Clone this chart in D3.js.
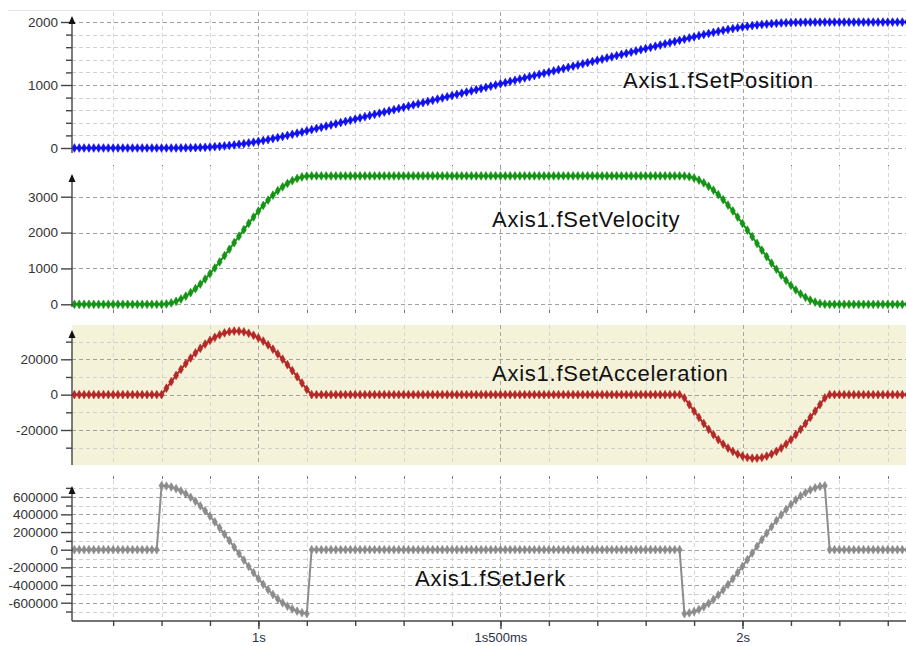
<!DOCTYPE html>
<html><head><meta charset="utf-8">
<script src="https://cdn.jsdelivr.net/npm/d3@7/dist/d3.min.js"></script>
<style>
body{margin:0;background:#fff;}
svg{display:block;font-family:Arial,"Liberation Sans",sans-serif;}
</style></head><body><svg id="chart" width="906" height="646"></svg>
<script>
// sample times: sampleStart + i*sampleStep (seconds as labelled on the axis)
const sampleStart = 0.62, sampleStep = 0.01;

const position = [
 0,0,0,0,0,0,0,0,0,0, 0,0,0,0,0,0,0,0,
 0,0,0.1,0.4,1.0,2.0,3.4,5.4,8.0,11.3, 15.4,20.2,25.9,32.6,40.1,48.5,58.0,68.3,79.7,91.9,
 105.0,118.9,133.7,149.2,165.4,182.2,199.5,217.3,235.4,253.8, 272.4,
 291.0,309.7,328.4,347.0,365.7,384.4,403.0,421.7,440.3,459.0,
 477.6,496.3,515.0,533.6,552.3,570.9,589.6,608.2,626.9,645.5,
 664.2,682.9,701.5,720.2,738.8,757.5,776.1,794.8,813.4,832.1,
 850.8,869.4,888.1,906.7,925.4,944.0,962.7,981.3,1000.0,1018.7,
 1037.3,1056.0,1074.6,1093.3,1111.9,1130.6,1149.2,1167.9,1186.5,1205.2,
 1223.9,1242.5,1261.2,1279.8,1298.5,1317.1,1335.8,1354.4,1373.1,1391.8,
 1410.4,1429.1,1447.7,1466.4,1485.0,1503.7,1522.3,
 1541.0,1559.7,1578.3,1597.0,1615.6,1634.3,1652.9,1671.6,1690.2,1708.9,
 1727.6,1746.2,1764.7,1782.9,1800.7,1818.1,1835.0,1851.3,1866.8,1881.6,
 1895.6,1908.7,1921.0,1932.2,1942.5,1951.9,1960.2,1967.6,1974.0,1979.6,
 1984.3,1988.1,1991.2,1993.6,1995.4,1996.6,1997.4,1997.9,1998.1,1998.2,
 1998.2,1998.2,1998.2,1998.2,1998.2,1998.2,1998.2,1998.2,1998.2,1998.2,
 1998.2,1998.2,1998.2,1998.2,1998.2,1998.2,1998.2
];

const velocity = [
 0,0,0,0,0,0,0,0,0,0, 0,0,0,0,0,0,0,0,
 0,9,37,83,147,228,325,437,564,703, 853,1013,1182,1356,1535,1717,1900,2081,2259,2433,
 2599,2756,2906,3043,3167,3276,3370,3447,3508,3550, 3574,
 3580,3580,3580,3580,3580,3580,3580,3580,3580,3580,
 3580,3580,3580,3580,3580,3580,3580,3580,3580,3580,
 3580,3580,3580,3580,3580,3580,3580,3580,3580,3580,
 3580,3580,3580,3580,3580,3580,3580,3580,3580,3580,
 3580,3580,3580,3580,3580,3580,3580,3580,3580,3580,
 3580,3580,3580,3580,3580,3580,3580,3580,3580,3580,
 3580,3580,3580,3580,3580,3580,3580,
 3580,3580,3580,3580,3580,3580,3580,3580,3580,3580,
 3577,3558,3519,3461,3385,3291,3181,3056,2916,2765,
 2603,2432,2253,2070,1884,1696,1510,1327,1148,977,
 815,664,524,399,289,195,119,61,22,3,
 0,0,0,0,0,0,0,0,0,0, 0,0,0,0,0,0,0
];

const acceleration = [
 0,0,0,0,0,0,0,0,0,0, 0,0,0,0,0,0,0,0,
 0,3665,7294,10843,14285,17575,20682,23580,26226,28606,
 30676,32436,33858,34920,35629,35971,35932,35521,34740,33599,
 32116,30300,28145,25715,23008,20074,16931,13608,10141,6574, 2934,
 0,0,0,0,0,0,0,0,0,0, 0,0,0,0,0,0,0,0,0,0,
 0,0,0,0,0,0,0,0,0,0, 0,0,0,0,0,0,0,0,0,0,
 0,0,0,0,0,0,0,0,0,0, 0,0,0,0,0,0,0,0,0,0,
 0,0,0,0,0,0,0,
 0,0,0,0,0,0,0,0,0,0,
 -1883,-5630,-9317,-12902,-16344,-19606,-22655,-25456,-27976,-30193,
 -32076,-33610,-34772,-35557,-35950,-35950,-35557,-34772,-33610,-32076,
 -30193,-27976,-25456,-22655,-19606,-16344,-12902,-9317,-5630,-1883,
 0,0,0,0,0,0,0,0,0,0, 0,0,0,0,0,0,0
];

const jerk = [
 0,0,0,0,0,0,0,0,0,0, 0,0,0,0,0,0,0,0,
 725000,721200,710000,691400,665500,632700,593400,547900,496700,440200,
 379500,314600,246400,175800,103400,29600,-44400,-117800,-190100,-260400,
 -327600,-391400,-452000,-507400,-557600,-601800,-639800,-671200,-695600,-712800, -722600,
 0,0,0,0,0,0,0,0,0,0, 0,0,0,0,0,0,0,0,0,0,
 0,0,0,0,0,0,0,0,0,0, 0,0,0,0,0,0,0,0,0,0,
 0,0,0,0,0,0,0,0,0,0, 0,0,0,0,0,0,0,0,0,0,
 0,0,0,0,0,0,0,
 0,0,0,0,0,0,0,0,0,0,
 -724000,-716100,-700300,-676900,-646000,-608100,-563400,-512600,-456200,-394800,
 -329200,-259800,-187600,-113400,-37900,37900,113400,187600,259800,329200,
 394800,456200,512600,563400,608100,646000,676900,700300,716100,724000,
 0,0,0,0,0,0,0,0,0,0, 0,0,0,0,0,0,0
];

const seriesNames = ["Axis1.fSetPosition","Axis1.fSetVelocity","Axis1.fSetAcceleration","Axis1.fSetJerk"];

const posMajor = [0,1000,2000], posMinor = [200,400,600,800,1200,1400,1600,1800];
const velMajor = [0,1000,2000,3000], velMinor = [];
const accMajor = [-20000,0,20000], accMinor = [-30000,-10000,10000,30000];
const jerkMajor = [-600000,-400000,-200000,0,200000,400000,600000];
const jerkMinor = [-700000,-500000,-300000,-100000,100000,300000,500000,700000];

const xMinorTicks = [0.7,0.8,0.9,1.0,1.1,1.2,1.3,1.4,1.5,1.6,1.7,1.8,1.9,2.0,2.1,2.2,2.3];
const xLabelTicks = [1, 1.5, 2];
const xTickLabels = ["1s","1s500ms","2s"];

const svg = d3.select("#chart");
const W = 906, L = 72, R = 906;
const x = d3.scaleLinear().domain([0.615, 2.3377]).range([L, R]);
const tOf = i => sampleStart + i * sampleStep;

const panels = [
 {values: position, color:"#1010f0", dom:[0,2000], rng:[148,22], top:12, bottom:160, axTop:16, axBot:153,
  major: posMajor, minor: posMinor, fmt: d=>String(d), lx:623, ly:88, bg:null, tickY:165},
 {values: velocity, color:"#149414", dom:[0,3000], rng:[304.3,196.7], top:166, bottom:310, axTop:174, axBot:307,
  major: velMajor, minor: velMinor, fmt: d=>String(d), lx:492, ly:227, bg:null, tickY:310},
 {values: acceleration, color:"#b42828", dom:[-20000,20000], rng:[430,359.3], top:325, bottom:465, axTop:330, axBot:465,
  major: accMajor, minor: accMinor, fmt: d=>String(d), lx:492, ly:381, bg:"#f5f2da", tickY:476},
 {values: jerk, color:"#8c8c8c", dom:[-600000,600000], rng:[602.7,496.7], top:480, bottom:621, axTop:486, axBot:621,
  major: jerkMajor, minor: jerkMinor, fmt: d=>String(d), lx:415, ly:586, bg:null, tickY:null}
];

// faint top border
svg.append("line").attr("x1",8).attr("x2",W).attr("y1",10.5).attr("y2",10.5)
  .attr("stroke","#e6e6e6").attr("stroke-width",1);

const defs = svg.append("defs");

panels.forEach((p, k) => {
  const y = d3.scaleLinear().domain(p.dom).range(p.rng);
  const g = svg.append("g");
  if (p.bg) g.append("rect").attr("x",L).attr("y",p.top).attr("width",R-L).attr("height",p.bottom-p.top).attr("fill",p.bg);

  // vertical grid
  g.selectAll(".vg").data(xMinorTicks).join("line")
    .attr("x1",d=>Math.round(x(d))+0.5).attr("x2",d=>Math.round(x(d))+0.5)
    .attr("y1",p.top).attr("y2",p.bottom)
    .attr("stroke",d=> xLabelTicks.some(v=>Math.abs(v-d)<1e-6) ? "#a6a6a6" : "#d6d6d6")
    .attr("stroke-dasharray","4,3").attr("stroke-width",1);
  // horizontal grid
  g.selectAll(".hgm").data(p.minor).join("line")
    .attr("x1",L).attr("x2",R).attr("y1",d=>Math.round(y(d))+0.5).attr("y2",d=>Math.round(y(d))+0.5)
    .attr("stroke","#d0d0d0").attr("stroke-dasharray","4,3");
  g.selectAll(".hgM").data(p.major).join("line")
    .attr("x1",L).attr("x2",R).attr("y1",d=>Math.round(y(d))+0.5).attr("y2",d=>Math.round(y(d))+0.5)
    .attr("stroke","#a0a0a0").attr("stroke-dasharray","4,3");

  // small x ticks at panel bottoms
  if (p.tickY !== null) {
    g.selectAll(".bt").data(xMinorTicks).join("line")
      .attr("x1",d=>Math.round(x(d))+0.5).attr("x2",d=>Math.round(x(d))+0.5)
      .attr("y1",p.tickY).attr("y2",p.tickY+3).attr("stroke","#777");
  }

  // data
  const cid = "clip"+k;
  defs.append("clipPath").attr("id",cid).append("rect")
    .attr("x",L).attr("y",p.top-6).attr("width",R-L).attr("height",p.bottom-p.top+12);
  const dg = g.append("g").attr("clip-path",`url(#${cid})`);
  const line = d3.line().x((d,i)=>x(tOf(i))).y(d=>y(d));
  dg.append("path").datum(p.values).attr("d",line).attr("fill","none")
    .attr("stroke",p.color).attr("stroke-width",2);
  const sym = d3.symbol().type(d3.symbolDiamond).size(22);
  dg.selectAll(".m").data(p.values).join("path")
    .attr("transform",(d,i)=>`translate(${x(tOf(i))},${y(d)})`)
    .attr("d",sym).attr("fill",p.color).attr("stroke",p.color).attr("stroke-width",0.6);

  // y axis
  const axMinor = d3.axisLeft(y).tickValues(p.minor).tickSize(6).tickFormat("");
  const axMajor = d3.axisLeft(y).tickValues(p.major).tickSize(11).tickPadding(3).tickFormat(p.fmt);
  const ag1 = g.append("g").attr("transform",`translate(${L},0)`).call(axMinor);
  const ag2 = g.append("g").attr("transform",`translate(${L},0)`).call(axMajor);
  [ag1,ag2].forEach(a=>{
    a.select(".domain").remove();
    a.selectAll("line").attr("stroke","#444").attr("stroke-width",1.4);
    a.selectAll("text").attr("fill","#333").style("font-size","13.5px").style("font-family","Arial,'Liberation Sans',sans-serif");
  });
  g.append("line").attr("x1",L).attr("x2",L).attr("y1",p.axTop+4).attr("y2",p.axBot)
    .attr("stroke","#444").attr("stroke-width",1.4);
  g.append("path").attr("d",`M${L},${p.axTop} L${L-3.5},${p.axTop+8} L${L+3.5},${p.axTop+8} Z`).attr("fill","#111");

  // series name
  g.append("text").attr("x",p.lx).attr("y",p.ly).text(seriesNames[k])
    .attr("fill","#111").style("font-size","22px").style("letter-spacing","0.75px");
});

// x axis
const xAxY = 621;
const xMinorAx = d3.axisBottom(x).tickValues(xMinorTicks).tickSize(5).tickFormat("");
const xMajorAx = d3.axisBottom(x).tickValues(xLabelTicks).tickSize(8).tickPadding(4)
  .tickFormat((d,i)=>xTickLabels[i]);
const xg1 = svg.append("g").attr("transform",`translate(0,${xAxY})`).call(xMinorAx);
const xg2 = svg.append("g").attr("transform",`translate(0,${xAxY})`).call(xMajorAx);
[xg1,xg2].forEach(a=>{
  a.select(".domain").remove();
  a.selectAll("line").attr("stroke","#444").attr("stroke-width",1.4);
  a.selectAll("text").attr("fill","#2a2f48").style("font-size","13px").style("font-family","Arial,'Liberation Sans',sans-serif");
});
svg.append("line").attr("x1",L).attr("x2",R).attr("y1",xAxY).attr("y2",xAxY)
  .attr("stroke","#444").attr("stroke-width",1.4);
</script></body></html>
